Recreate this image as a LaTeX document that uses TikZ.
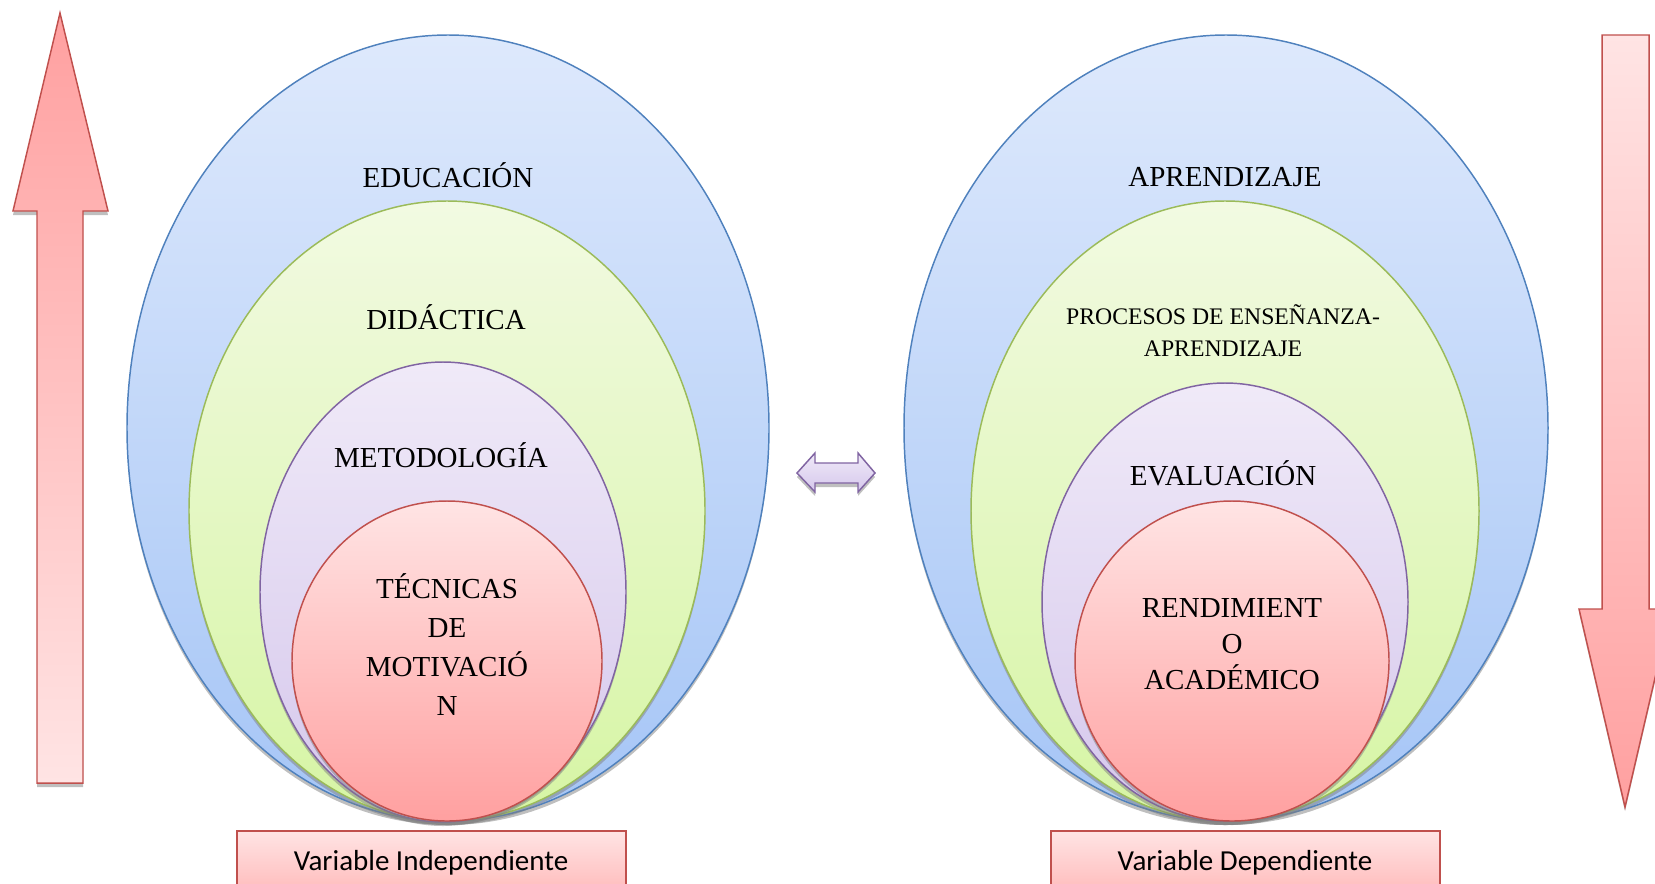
\documentclass[tikz,border=0pt]{standalone}
\usepackage{fontspec}
\setmainfont{Liberation Serif}
\newfontfamily\calibrifont{Carlito}
\usetikzlibrary{shadows}

\definecolor{blueline}{RGB}{79,129,189}
\definecolor{bluetop}{RGB}{222,233,252}
\definecolor{bluebot}{RGB}{165,197,246}
\definecolor{greenline}{RGB}{155,187,89}
\definecolor{greentop}{RGB}{242,250,226}
\definecolor{greenbot}{RGB}{214,245,164}
\definecolor{purpleline}{RGB}{128,100,162}
\definecolor{purpletop}{RGB}{240,234,248}
\definecolor{purplebot}{RGB}{213,199,236}
\definecolor{redline}{RGB}{192,80,77}
\definecolor{redtop}{RGB}{255,228,228}
\definecolor{redbot}{RGB}{255,160,160}

\tikzset{every picture/.style={line width=1.1pt}}
\tikzset{
  blueset/.style={draw=blueline, top color=bluetop, bottom color=bluebot},
  greenset/.style={draw=greenline, top color=greentop, bottom color=greenbot},
  purpleset/.style={draw=purpleline, top color=purpletop, bottom color=purplebot},
  redset/.style={draw=redline, top color=redtop, bottom color=redbot},
  shadowset/.style={drop shadow={opacity=0.5, shadow xshift=0pt, shadow yshift=-3pt}},
  lbl/.style={inner sep=0.75pt, align=center, font=\fontsize{21.75}{29.25}\selectfont},
  smalllbl/.style={inner sep=0.75pt, align=center, font=\fontsize{17.8}{24}\selectfont},
  varlbl/.style={inner sep=0.75pt, anchor=base, font=\calibrifont\fontsize{21.75}{26}\selectfont},
}

\begin{document}
\begin{tikzpicture}[x=0.75pt,y=0.75pt,yscale=-1,xscale=1]
\clip (0,0) rectangle (1655,883);

%Up Arrow [left]
\draw [draw=redline, top color=redbot, bottom color=redtop, shadowset] (60,13) -- (108,211) -- (83,211) -- (83,783) -- (37,783) -- (37,211) -- (13,211) -- cycle ;
%Down Arrow [right]
\draw [draw=redline, top color=redtop, bottom color=redbot, shadowset] (1602,35) -- (1649,35) -- (1649,609) -- (1671,609) -- (1625,807) -- (1579,609) -- (1602,609) -- cycle ;

%Ellipses [left]
\draw [blueset, shadowset] (448,428) ellipse (321 and 393) ;
\draw [greenset, shadowset] (447,511) ellipse (258 and 310) ;
\draw [purpleset, shadowset] (443,592) ellipse (183 and 230) ;
\draw [redset, shadowset] (447,661) ellipse (155 and 160) ;

%Ellipses [right]
\draw [blueset, shadowset] (1226,428) ellipse (322 and 393) ;
\draw [greenset, shadowset] (1225,511) ellipse (254 and 310) ;
\draw [purpleset, shadowset] (1225,602) ellipse (183 and 219) ;
\draw [redset, shadowset] (1232,661) ellipse (157 and 160) ;

%Left-Right Arrow
\draw [draw=purpleline, top color=purpletop, bottom color=purplebot, shadowset] (797,473) -- (815,453) -- (815,463) -- (858,463) -- (858,453) -- (875,473) -- (858,492) -- (858,483) -- (815,483) -- (815,492) -- cycle ;

%Rectangles
\draw [draw=redline, top color=redtop, bottom color=redbot!80!white] (237,831) rectangle (626,905) ;
\draw [draw=redline, top color=redtop, bottom color=redbot!80!white] (1051,831) rectangle (1440,905) ;

% Text Node
\node [lbl] (educ) at (448,175) {EDUCACIÓN};
\node [lbl] (didac) at (446,317) {DIDÁCTICA};
\node [lbl] (metod) at (441,455) {METODOLOGÍA};
\node [lbl] (tecn) at (447,645) {TÉCNICAS\\DE\\MOTIVACIÓ\\N};
\node [lbl] (aprend) at (1225,177) {APRENDIZAJE};
\node [smalllbl] (proces) at (1223,331) {PROCESOS DE ENSEÑANZA-\\APRENDIZAJE};
\node [lbl] (evalu) at (1223,473) {EVALUACIÓN};
\node [lbl, font=\fontsize{21.75}{27}\selectfont] (rendim) at (1232,644) {RENDIMIENT\\O\\ACADÉMICO};
\node [varlbl] (varind) at (431,870) {Variable Independiente};
\node [varlbl] (vardep) at (1245,870) {Variable Dependiente};
\end{tikzpicture}
\end{document}
